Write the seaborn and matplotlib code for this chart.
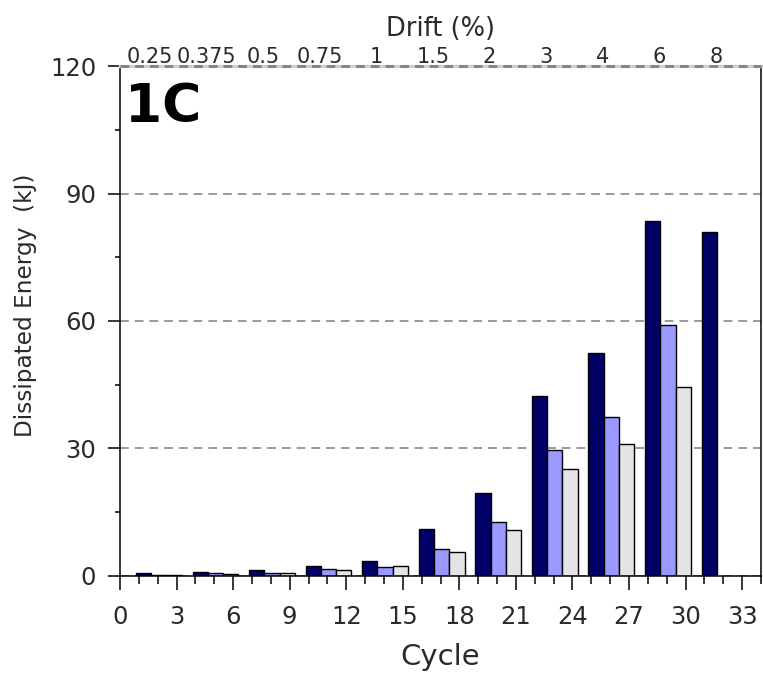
import matplotlib
matplotlib.use("Agg")
import matplotlib.pyplot as plt
from matplotlib.ticker import MultipleLocator, FixedLocator
import numpy as np
import pandas as pd
import seaborn as sns

# Dissipated energy per cycle (kJ); three cycles per drift level
drift_labels = ["0.25", "0.375", "0.5", "0.75", "1", "1.5", "2", "3", "4", "6", "8"]
first_cycle = [0.6, 0.9, 1.3, 2.35, 3.5, 11.0, 19.5, 42.4, 52.4, 83.6, 80.9]
second_cycle = [0.3, 0.6, 0.8, 1.6, 2.0, 6.4, 12.8, 29.6, 37.5, 59.1]
third_cycle = [0.2, 0.4, 0.6, 1.3, 2.3, 5.6, 10.8, 25.1, 31.0, 44.5]
series_names = ["1st", "2nd", "3rd"]
series_colors = ["#000066", "#9999ff", "#e4e4e4"]

sns.set_theme(style="white")
plt.rcParams["font.family"] = ["DejaVu Sans"]
plt.rcParams["lines.scale_dashes"] = False

# Bars inside a drift level sit side by side, one level every 3 cycles
BAR_STEP = 0.81
rows = []
for k, values in enumerate([first_cycle, second_cycle, third_cycle]):
    for g, v in enumerate(values):
        rows.append({"pos": 3 * g + 1.25 + k * BAR_STEP,
                     "energy": v,
                     "series": series_names[k]})
df = pd.DataFrame(rows)

fig = plt.figure(figsize=(7.63, 6.75), dpi=100)
ax = fig.add_axes([0.1573, 0.1467, 0.8401, 0.7555])

sns.barplot(data=df, x="pos", y="energy", hue="series",
            hue_order=series_names, palette=series_colors,
            native_scale=True, dodge=False, width=1.0, saturation=1,
            edgecolor="black", linewidth=1.0, errorbar=None,
            legend=False, ax=ax)

ax.set_xlim(0, 34)
ax.set_ylim(0, 120)
ax.xaxis.set_major_locator(FixedLocator(np.arange(0, 34, 3)))
ax.xaxis.set_minor_locator(MultipleLocator(1))
ax.yaxis.set_major_locator(MultipleLocator(30))
ax.yaxis.set_minor_locator(MultipleLocator(15))
ax.set_xticklabels([str(v) for v in range(0, 34, 3)])

ax.tick_params(axis="x", which="major", direction="out", length=10, width=1.1,
               color="black", labelsize=17.5, pad=11, bottom=True)
ax.tick_params(axis="x", which="minor", direction="out", length=5.6, width=1.1,
               color="black", bottom=True)
ax.tick_params(axis="y", which="major", direction="out", length=8.6, width=1.1,
               color="black", labelsize=17.5, pad=8.5, left=True)
ax.tick_params(axis="y", which="minor", direction="out", length=3.6, width=1.1,
               color="black", left=True)
for lbl in ax.get_xticklabels() + ax.get_yticklabels():
    lbl.set_color("#2a2a2a")

ax.set_axisbelow(True)
ax.yaxis.grid(True, which="major", color="#9a9a9a", linewidth=1.4,
              linestyle=(0, (6.3, 4.3)))
ax.xaxis.grid(False)

for side in ["left", "bottom", "right"]:
    ax.spines[side].set_color("black")
    ax.spines[side].set_linewidth(1.1)
ax.spines["top"].set_color("#d0d0d0")
ax.spines["top"].set_linewidth(2.4)
ax.axhline(120, color="#7a7a7a", linewidth=1.8, linestyle=(0, (6.3, 4.3)),
           clip_on=False, zorder=3)

ax.set_xlabel("Cycle", fontsize=21, color="#2a2a2a", labelpad=10)
ax.set_ylabel("Dissipated Energy  (kJ)", fontsize=16.7, color="#2a2a2a")
ax.yaxis.set_label_coords(-0.129, 0.531)

ax.text(0.008, 0.890, "1C", transform=ax.transAxes, fontsize=38.5,
        fontweight="bold", color="black", ha="left", va="baseline")

# Drift levels along the top
top = ax.twiny()
top.set_xlim(ax.get_xlim())
top.xaxis.set_major_locator(FixedLocator([3 * g + 1.6 for g in range(len(drift_labels))]))
top.set_xticklabels(drift_labels)
top.tick_params(axis="x", which="both", length=0, labelsize=15, pad=-0.5,
                labelcolor="#2a2a2a")
top.xaxis.set_minor_locator(FixedLocator([]))
for s in top.spines.values():
    s.set_visible(False)
top.grid(False)
top.set_xlabel("Drift (%)", fontsize=18.5, color="#2a2a2a", labelpad=8)

fig.savefig("out.png", dpi=100)
